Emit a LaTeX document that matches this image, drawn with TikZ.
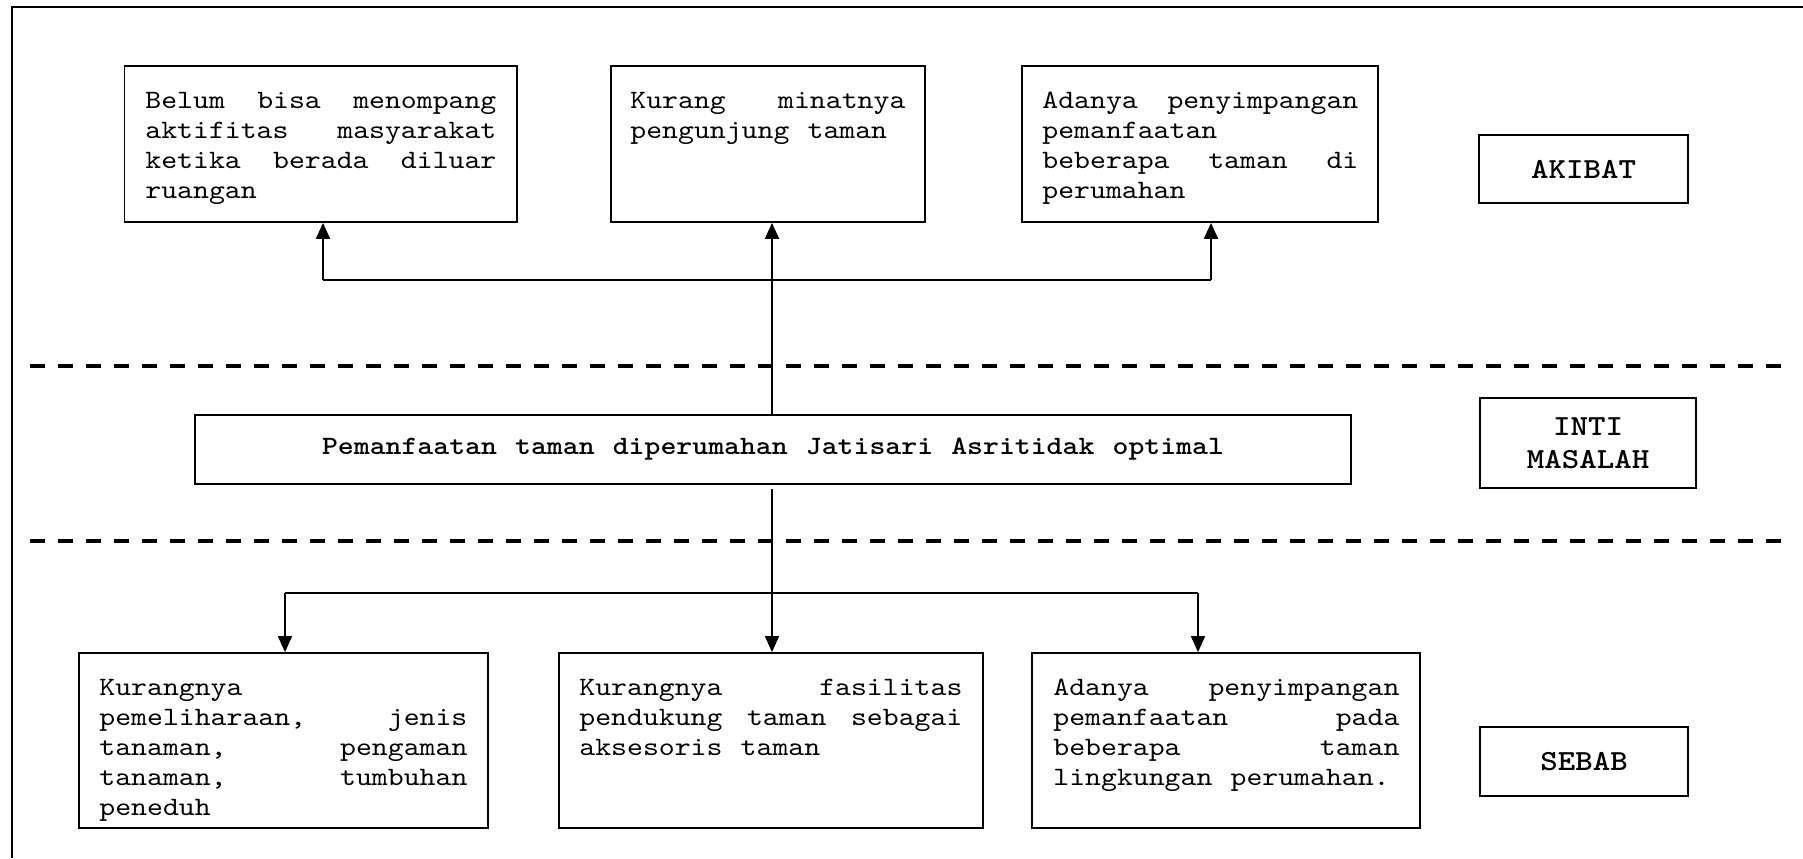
\documentclass[tikz,border=0pt]{standalone}
\usepackage{fontspec}
\usetikzlibrary{arrows.meta}

% typewriter faces widened to a 0.6em advance per character (spaces too)
\newfontfamily\courfont{lmmono10-regular}[Extension=.otf, FakeStretch=1.143, WordSpace={1.143,0,0}]
\newfontfamily\courbold{lmmonolt10-bold}[Extension=.otf, FakeStretch=1.143, WordSpace={1.143,0,0}]

\tikzset{
  % one unit = one pixel of the page, y grows downwards
  box/.style={draw, line width=0.9pt, rectangle, inner sep=0pt},
  txt/.style={inner sep=0pt, anchor=north west, align=left,
              font=\courfont\fontsize{13.25}{15}\selectfont,
              execute at begin node={\spaceskip=0pt\xspaceskip=0pt\relax}},
  tag/.style={box, align=center,
              font=\courbold\fontsize{14.58}{16.5}\selectfont},
  coretext/.style={box, font=\courbold\fontsize{13.25}{15}\selectfont},
  upper/.style={line width=1pt},
  lower/.style={line width=0.8pt},
  tip/.style={-{Triangle[width=7pt,length=8pt]}},
  divider/.style={line width=1.75pt, dash pattern=on 7.5pt off 6.5pt},
}

\begin{document}
\begin{tikzpicture}[x=0.5pt, y=-0.5pt]
\useasboundingbox (0,0) rectangle (1803,858);

% page frame
\draw[line width=1pt] (12,858) -- (12,7) -- (1803,7);

% effects (AKIBAT)
\node[box, minimum width=196.1pt, minimum height=78pt] (b1) at (320.5,144) {};
\node[box, minimum width=157pt,   minimum height=78pt] (b2) at (768,144) {};
\node[box, minimum width=178pt,   minimum height=78pt] (b3) at (1200,144) {};
\node[txt, text width=175.5pt] (b1t) at (145,87)
  {\strut Belum\hfill bisa\hfill menompang\\aktifitas\hfill masyarakat\\ketika\hfill berada\hfill diluar\\ruangan};
\node[txt, text width=137.5pt] (b2t) at (630,87)
  {\strut Kurang\hfill minatnya\\pengunjung taman};
\node[txt, text width=158pt] (b3t) at (1042,87)
  {\strut Adanya\hfill penyimpangan\\pemanfaatan\\beberapa\hfill taman\hfill di\\perumahan};
\node[tag, minimum width=104.5pt, minimum height=34pt] (akibat) at (1583.5,169) {AKIBAT};

% core problem
\node[coretext, minimum width=578pt, minimum height=34.5pt] (core) at (773,449.5)
  {Pemanfaatan taman diperumahan Jatisari Asritidak optimal};
\node[tag, minimum width=108pt, minimum height=45pt] (inti) at (1588,443) {INTI\\MASALAH};

% causes (SEBAB)
\node[box, minimum width=204.5pt, minimum height=87.5pt] (c1) at (283.5,740.5) {};
\node[box, minimum width=212pt,   minimum height=87.5pt] (c2) at (771,740.5) {};
\node[box, minimum width=194pt,   minimum height=87.5pt] (c3) at (1226,740.5) {};
\node[txt, text width=184pt] (c1t) at (99,674)
  {\strut Kurangnya\\pemeliharaan,\hfill jenis\\tanaman,\hfill pengaman\\tanaman,\hfill tumbuhan\\peneduh};
\node[txt, text width=191.5pt] (c2t) at (579,674)
  {\strut Kurangnya\hfill fasilitas\\pendukung\hfill taman\hfill sebagai\\aksesoris taman};
\node[txt, text width=173pt] (c3t) at (1053,674)
  {\strut Adanya\hfill penyimpangan\\pemanfaatan\hfill pada\\beberapa\hfill taman\\lingkungan perumahan.};
\node[tag, minimum width=104pt, minimum height=34.5pt] (sebab) at (1584,761.5) {SEBAB};

% dashed dividers
\coordinate (d1a) at (30,366);  \coordinate (d1b) at (1781,366);
\coordinate (d2a) at (30,541);  \coordinate (d2b) at (1781,541);
\draw[divider] (d1a) -- (d1b);
\draw[divider] (d2a) -- (d2b);

% core -> effects
\coordinate (tj) at (772,280);
\coordinate (tl) at (323,280);
\coordinate (tr) at (1211,280);
\draw[upper] (tl) -- (tr);
\draw[upper, tip] (core.north -| tj) -- (b2.south -| tj);
\draw[upper, tip] (tl) -- (tl |- b1.south);
\draw[upper, tip] (tr) -- (tr |- b3.south);

% core -> causes
\coordinate (bj) at (772,593);
\coordinate (bl) at (285,593);
\coordinate (br) at (1198,593);
\draw[lower] (bl) -- (br);
\draw[lower, tip, shorten <=2pt] (core.south -| bj) -- (c2.north -| bj);
\draw[lower, tip] (bl) -- (bl |- c1.north);
\draw[lower, tip] (br) -- (br |- c3.north);
\end{tikzpicture}
\end{document}
